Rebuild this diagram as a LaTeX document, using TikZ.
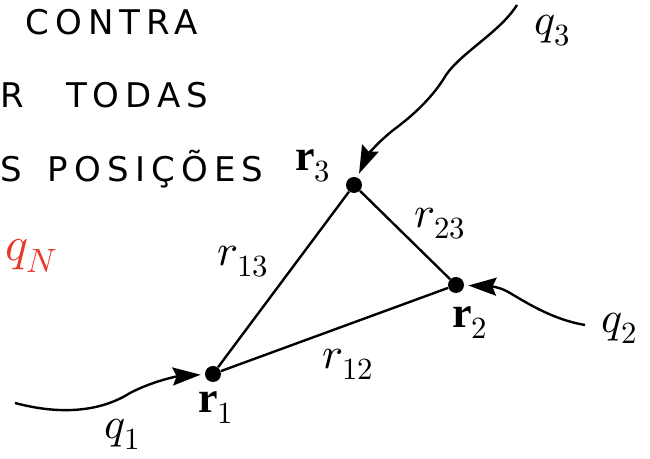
\documentclass[tikz,border=0pt]{standalone}
\usepackage{fontspec}
\usepackage{unicode-math}
\setmainfont{Liberation Serif}
\newfontfamily\handfont[LetterSpace=18]{DejaVu Sans}
\usetikzlibrary{arrows.meta, positioning}
\definecolor{penred}{RGB}{232,56,42}

\begin{document}
\begin{tikzpicture}[x=0.5pt, y=-0.5pt,
  dot/.style={circle, fill, inner sep=0pt, minimum size=8pt},
  bond/.style={line width=1.2pt},
  wave/.style={line width=1.2pt, -{Stealth[length=14pt, width=9pt, inset=2pt]}, shorten >=2pt},
  lbl/.style={font=\fontsize{22}{26}\selectfont, inner sep=0pt},
  hand/.style={font=\handfont\fontsize{17}{20}\selectfont, anchor=base west, inner sep=0pt}]
\useasboundingbox (0,0) rectangle (650,459);

% handwritten notes
\node[hand] (note1) at (25,35) {CONTRA};
\node[hand] (note2) at (0,108) {R\hspace{21pt}TODAS};
\node[hand] (note3) at (0,182) {S\hspace{13pt}POSIÇÕES};
\node[lbl, text=penred, font=\fontsize{24}{28}\selectfont] (qn) at (32,256) {$q_N$};

% charges
\node[dot] (r1) at (213,374) {};
\node[dot] (r2) at (456,285) {};
\node[dot] (r3) at (354,185) {};

\draw[bond] (r1) -- (r2);
\draw[bond] (r1) -- (r3);
\draw[bond] (r3) -- (r2);

% incoming paths
\coordinate (q1s) at (15,403);
\coordinate (q2s) at (585,325);
\coordinate (q3s) at (517,5);
\draw[wave] (q1s) .. controls (60,415) and (100,412) .. (130,393)
  .. controls (155,380) and (180,376) .. (r1);
\draw[wave] (q2s) .. controls (555,320) and (530,305) .. (510,293)
  .. controls (495,284) and (480,286) .. (r2);
\draw[wave] (q3s) .. controls (500,32) and (462,52) .. (446,75)
  .. controls (436,92) and (420,110) .. (396,128)
  .. controls (376,143) and (366,158) .. (r3);

% labels
\node[lbl] (l1) at (216,408) {$\mathbf{r}_1$};
\node[lbl] (l2) at (470,323) {$\mathbf{r}_2$};
\node[lbl] (l3) at (313,166) {$\mathbf{r}_3$};
\node[lbl] (l12) at (348,364) {$\mathscr{r}_{12}$};
\node[lbl] (l13) at (243,262) {$\mathscr{r}_{13}$};
\node[lbl] (l23) at (440,224) {$\mathscr{r}_{23}$};
\node[lbl] (lq1) at (123,434) {$q_1$};
\node[lbl] (lq2) at (620,328) {$q_2$};
\node[lbl] (lq3) at (553,31) {$q_3$};

\end{tikzpicture}
\end{document}
